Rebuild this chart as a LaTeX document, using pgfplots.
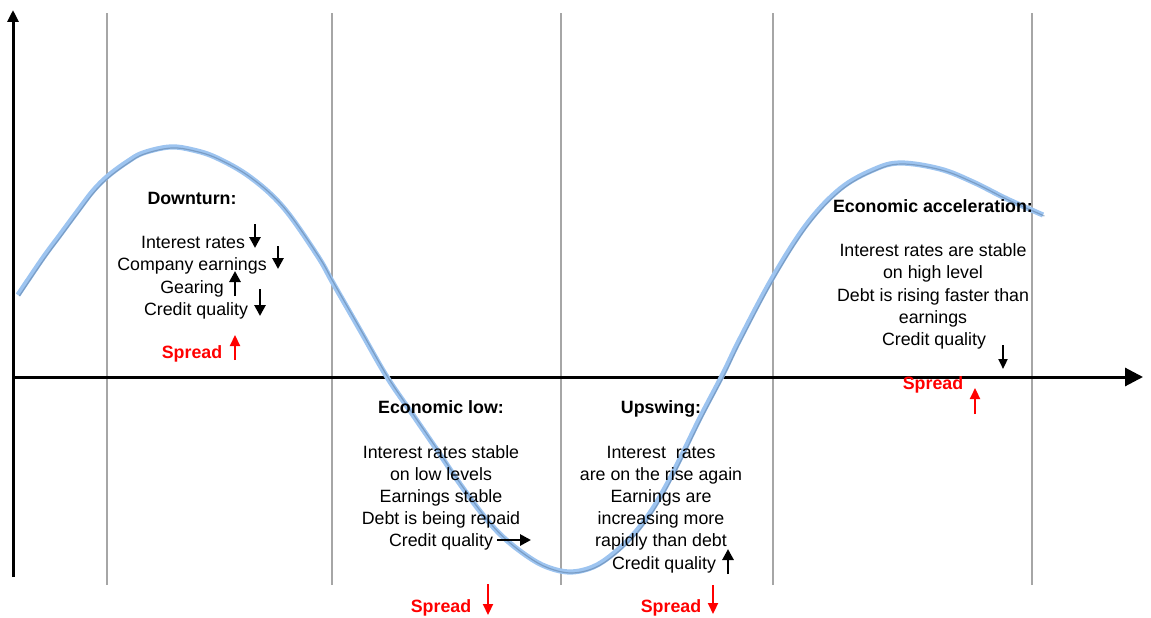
\documentclass[border=0pt]{standalone}
\usepackage{pgfplots}
\pgfplotsset{compat=1.18}
\usetikzlibrary{arrows.meta}
\usepackage{fontspec}
\setmainfont{Liberation Sans}
\definecolor{curvelight}{HTML}{9DC4F0}
\definecolor{curvedark}{HTML}{5E7EA3}
\definecolor{gridgray}{HTML}{A6A6A6}
\definecolor{sred}{HTML}{FF0000}
\begin{document}
\begin{tikzpicture}[
 txt/.style={anchor=base, font=\fontsize{8.9}{11}\selectfont, inner sep=0pt},
 btxt/.style={anchor=base, font=\fontsize{8.9}{11}\selectfont\bfseries, inner sep=0pt},
 rtxt/.style={btxt, text=sred},
 barr/.style={line width=1.45pt, -{Triangle[width=5.5pt,length=5.5pt]}},
 rarr/.style={line width=1.1pt, sred, -{Triangle[width=5pt,length=5.5pt]}},
]
\begin{axis}[width=575.5pt, height=308.5pt, scale only axis,
  xmin=0, xmax=1151, ymin=0, ymax=617, hide axis, clip=false]
\path (axis cs:0,0) rectangle (axis cs:1151,617);
% grid lines
\foreach \gx in {107,332,561,773,1032}{
  \edef\tmp{\noexpand\draw[gridgray, line width=0.6pt] (axis cs:\gx,32) -- (axis cs:\gx,604);}
  \tmp
}
% axes
\draw[line width=1.5pt, -{Triangle[width=5.5pt,length=6pt]}] (axis cs:13,40) -- (axis cs:13,607);
\draw[line width=1.5pt, -{Triangle[width=9pt,length=9pt]}] (axis cs:13,240) -- (axis cs:1143,240);
% curve
\addplot[curvelight, line width=2.6pt, smooth, tension=0.6] coordinates {
(18,322) (43,359) (60,382) (77,405) (93,426) (108,441) (127,455) (143,464)
(170,470) (193,467) (217,459)
(250,440) (283,410) (317,362) (333,334) (360,287) (387,240) (413,202) (437,167)
(460,133) (483,102) (503,80) (527,61) (547,50) (570,45) (593,50)
(613,63) (633,82) (650,104) (665,129) (680,158) (700,199) (723,243) (740,278)
(773,340) (807,393) (840,428) (873,447) (900,454) (940,448) (973,435) (1007,418) (1043,402)};
\addplot[curvedark, line width=0.6pt, smooth, tension=0.6, opacity=0.55, xshift=0.7pt, yshift=-0.5pt] coordinates {
(18,322) (43,359) (60,382) (77,405) (93,426) (108,441) (127,455) (143,464)
(170,470) (193,467) (217,459)
(250,440) (283,410) (317,362) (333,334) (360,287) (387,240) (413,202) (437,167)
(460,133) (483,102) (503,80) (527,61) (547,50) (570,45) (593,50)
(613,63) (633,82) (650,104) (665,129) (680,158) (700,199) (723,243) (740,278)
(773,340) (807,393) (840,428) (873,447) (900,454) (940,448) (973,435) (1007,418) (1043,402)};
% Downturn
\node[btxt] at (axis cs:192,413) {Downturn:};
\node[txt] at (axis cs:193,369) {Interest rates};
\node[txt] at (axis cs:192,346.5) {Company earnings};
\node[txt] at (axis cs:192,324) {Gearing};
\node[txt] at (axis cs:196,301.5) {Credit quality};
\node[rtxt] at (axis cs:192,259) {Spread};
\draw[barr] (axis cs:255,393) -- (axis cs:255,369);
\draw[barr] (axis cs:278,371) -- (axis cs:278,348);
\draw[barr] (axis cs:235,321) -- (axis cs:235,346);
\draw[barr] (axis cs:260,328) -- (axis cs:260,301);
\draw[rarr] (axis cs:235,257) -- (axis cs:235,282);
% Economic low
\node[btxt] at (axis cs:441,204) {Economic low:};
\node[txt] at (axis cs:441,159) {Interest rates stable};
\node[txt] at (axis cs:441,137) {on low levels};
\node[txt] at (axis cs:441,115) {Earnings stable};
\node[txt] at (axis cs:441,93) {Debt is being repaid};
\node[txt] at (axis cs:441,71) {Credit quality};
\node[rtxt] at (axis cs:441,5) {Spread};
\draw[barr] (axis cs:497,77) -- (axis cs:531,77);
\draw[rarr] (axis cs:488,33) -- (axis cs:488,2);
% Upswing
\node[btxt] at (axis cs:661,204) {Upswing:};
\node[txt] at (axis cs:661,159) {Interest\ \ rates};
\node[txt] at (axis cs:661,137) {are on the rise again};
\node[txt] at (axis cs:661,115) {Earnings are};
\node[txt] at (axis cs:661,93) {increasing more};
\node[txt] at (axis cs:661,71) {rapidly than debt};
\node[txt] at (axis cs:664,48) {Credit quality};
\node[rtxt] at (axis cs:671,5) {Spread};
\draw[barr] (axis cs:728,43) -- (axis cs:728,68);
\draw[rarr] (axis cs:713,32) -- (axis cs:713,3);
% Economic acceleration
\node[btxt] at (axis cs:933,405) {Economic acceleration:};
\node[txt] at (axis cs:933,361) {Interest rates are stable};
\node[txt] at (axis cs:933,339) {on high level};
\node[txt] at (axis cs:933,316) {Debt is rising faster than};
\node[txt] at (axis cs:933,294) {earnings};
\node[txt] at (axis cs:934,272) {Credit quality};
\node[rtxt] at (axis cs:933,228) {Spread};
\draw[line width=1.1pt, -{Triangle[width=4.5pt,length=5pt]}] (axis cs:1003,272) -- (axis cs:1003,248);
\draw[rarr] (axis cs:975,203) -- (axis cs:975,229);
\end{axis}
\end{tikzpicture}
\end{document}
